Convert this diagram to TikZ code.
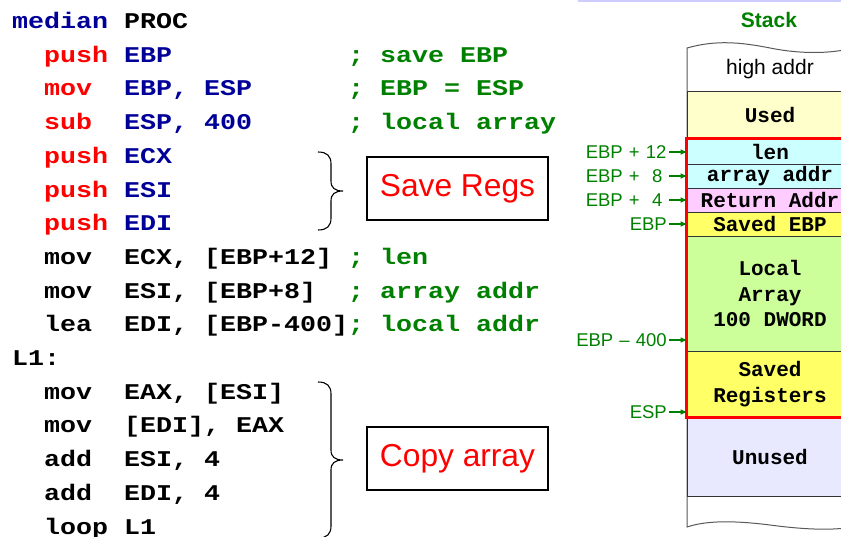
\documentclass[tikz,border=0pt]{standalone}
\usepackage{fontspec}
\setmainfont{Liberation Sans}
\newfontfamily\codefont[FakeStretch=1.185]{Liberation Mono}
\newfontfamily\cellfont{Liberation Mono}
\usetikzlibrary{arrows.meta}
\definecolor{cblue}{RGB}{0,0,153}
\definecolor{cred}{RGB}{255,0,0}
\definecolor{cgreen}{RGB}{0,128,0}
\definecolor{fused}{RGB}{255,255,204}
\definecolor{fcyan}{RGB}{204,255,255}
\definecolor{fpink}{RGB}{255,204,255}
\definecolor{fyel}{RGB}{255,255,102}
\definecolor{fgreen}{RGB}{204,255,153}
\definecolor{fun}{RGB}{232,232,255}
\definecolor{topline}{RGB}{204,204,255}
\frenchspacing
\begin{document}
\begin{tikzpicture}[x=1pt,y=-1pt,
  code/.style={anchor=base west,inner sep=0pt,font=\codefont\bfseries\fontsize{22.5}{30}\selectfont},
  cell/.style={draw=black!80,line width=0.8pt,minimum width=166pt,inner sep=0pt,align=center,
    font=\cellfont\bfseries\fontsize{21}{25.5}\selectfont},
  lab/.style={text=cgreen,inner sep=0pt,text width=92pt,anchor=east,font=\fontsize{18.5}{22}\selectfont},
  garrow/.style={draw=cgreen,line width=1.2pt,-{Triangle[length=6pt,width=5pt]},shorten <=2pt},
  note/.style={draw=black,line width=1.3pt,minimum width=181pt,minimum height=63pt,text=cred,font=\fontsize{31.7}{34}\selectfont},
  bracepath/.style={draw=black,line width=1.1pt}]
\useasboundingbox (0,0) rectangle (841,536);
\clip (0,0) rectangle (841,536);
% top line
\draw[topline,line width=2pt] (578,1) -- (841,1);
% code
\node[code] (c0) at (12,28.5) {\textcolor{cblue}{median}~PROC};
\node[code] (c1) at (12,62.2) {~~\textcolor{cred}{push}~\textcolor{cblue}{EBP}~~~~~~~~~~~\textcolor{cgreen}{;~save~EBP}};
\node[code] (c2) at (12,95.9) {~~\textcolor{cred}{mov}~~\textcolor{cblue}{EBP,~ESP}~~~~~~\textcolor{cgreen}{;~EBP~=~ESP}};
\node[code] (c3) at (12,129.6) {~~\textcolor{cred}{sub}~~\textcolor{cblue}{ESP,~400}~~~~~~\textcolor{cgreen}{;~local~array}};
\node[code] (c4) at (12,163.3) {~~\textcolor{cred}{push}~\textcolor{cblue}{ECX}};
\node[code] (c5) at (12,197) {~~\textcolor{cred}{push}~\textcolor{cblue}{ESI}};
\node[code] (c6) at (12,230.7) {~~\textcolor{cred}{push}~\textcolor{cblue}{EDI}};
\node[code] (c7) at (12,264.4) {~~mov~~ECX,~[EBP+12]~\textcolor{cgreen}{;~len}};
\node[code] (c8) at (12,298.1) {~~mov~~ESI,~[EBP+8]~~\textcolor{cgreen}{;~array~addr}};
\node[code] (c9) at (12,331.8) {~~lea~~EDI,~[EBP-400]\textcolor{cgreen}{;~local~addr}};
\node[code] (c10) at (12,365.5) {L1:};
\node[code] (c11) at (12,399.2) {~~mov~~EAX,~[ESI]};
\node[code] (c12) at (12,432.9) {~~mov~~[EDI],~EAX};
\node[code] (c13) at (12,466.6) {~~add~~ESI,~4};
\node[code] (c14) at (12,500.3) {~~add~~EDI,~4};
\node[code] (c15) at (12,534) {~~loop~L1};
% braces
\path[bracepath] (318,152) .. controls (327,152) and (331,156) .. (331,164) -- (331,181)
  .. controls (331,188) and (335,191) .. (343,191) .. controls (335,191) and (331,194) .. (331,201)
  -- (331,218) .. controls (331,226) and (327,230) .. (318,230);
\path[bracepath] (318,382) .. controls (327,382) and (331,386) .. (331,394) -- (331,450)
  .. controls (331,457) and (335,460) .. (343,460) .. controls (335,460) and (331,463) .. (331,470)
  -- (331,526) .. controls (331,534) and (327,538) .. (318,538);
% notes
\node[note] (saveregs) at (457.5,188.5) {Save Regs};
\node[note] (copyarr) at (457.5,458.5) {Copy array};
% stack title
\node[text=cgreen,font=\bfseries\fontsize{21}{24}\selectfont] (title) at (769,20) {Stack};
% stack outline
\path[draw=black!65,line width=1pt,fill=white] (687,527) -- (687,48)
  .. controls (715,40) and (740,42) .. (770,48) .. controls (800,54) and (830,54) .. (853,48)
  -- (853,527) .. controls (830,531) and (800,529) .. (770,525) .. controls (730,520) and (705,521) .. (687,527) -- cycle;
\node[inner sep=0pt,font=\fontsize{21}{24}\selectfont] (high) at (770,69) {high addr};
\node[cell,fill=fused,minimum height=48pt] (used) at (770,115) {Used};
\node[cell,fill=fcyan,minimum height=25pt] (len) at (770,151.5) {len};
\node[cell,fill=fcyan,minimum height=24pt] (arr) at (770,176) {array addr};
\node[cell,fill=fpink,minimum height=24pt] (ret) at (770,200) {Return Addr};
\node[cell,fill=fyel,minimum height=24pt] (sebp) at (770,224) {Saved EBP};
\node[cell,fill=fgreen,minimum height=115pt] (local) at (770,293.5) {Local\\Array\\100 DWORD};
\node[cell,fill=fyel,minimum height=66pt] (sregs) at (770,384) {Saved\\Registers};
\node[cell,fill=fun,minimum height=79pt] (unused) at (770,456.5) {Unused};
\draw[cred,line width=3pt] (len.north west) rectangle (sregs.south east);
% labels
\node[lab,align=left] (l12) at (667,152) {\hspace{11pt}EBP + 12};
\node[lab,align=left] (l8) at (667,176) {\hspace{11pt}EBP +~~8};
\node[lab,align=left] (l4) at (667,200) {\hspace{11pt}EBP +~~4};
\node[lab,align=right] (l0) at (667,224) {EBP};
\node[lab,align=right] (l400) at (667,340) {EBP -- 400};
\node[lab,align=right] (lesp) at (667,412) {ESP};
\draw[garrow] (l12.east) -- (l12.east -| len.west);
\draw[garrow] (l8.east) -- (l8.east -| arr.west);
\draw[garrow] (l4.east) -- (l4.east -| ret.west);
\draw[garrow] (l0.east) -- (l0.east -| sebp.west);
\draw[garrow] (l400.east) -- (l400.east -| local.west);
\draw[garrow] (lesp.east) -- (lesp.east -| sregs.west);
\end{tikzpicture}
\end{document}
